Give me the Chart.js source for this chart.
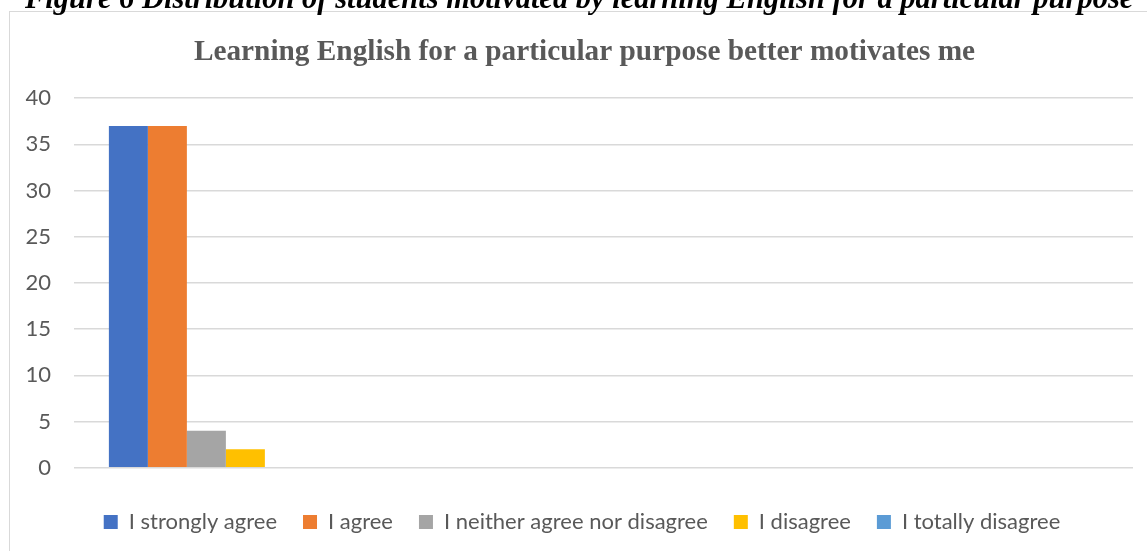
<!DOCTYPE html>
<html><head><meta charset="utf-8">
<script src="https://cdn.jsdelivr.net/npm/chart.js@4.4.0/dist/chart.umd.min.js"></script>
<style>
html,body{margin:0;padding:0;background:#fff;overflow:hidden;width:1147px;height:551px;}
#frame{position:absolute;left:9px;top:11px;width:1200px;height:600px;border:1.5px solid #d9d9d9;box-sizing:border-box;}
#caption{position:absolute;left:25px;top:-16.6px;font:italic bold 30.5px "Liberation Serif";line-height:30.5px;white-space:nowrap;color:#000;}
#wrap{position:absolute;left:0;top:0;width:1147px;height:551px;}
</style></head><body>
<div id="frame"></div>
<div id="wrap"><canvas id="c"></canvas></div>
<div id="caption">Figure 6 Distribution of students motivated by learning English for a particular purpose</div>
<script>
const chartTitle = 'Learning English for a particular purpose better motivates me';
const categories = ['', '', '', ''];
const seriesNames = ['I strongly agree', 'I agree', 'I neither agree nor disagree', 'I disagree', 'I totally disagree'];
const stronglyAgree = [37, null, null, null];
const agree = [37, null, null, null];
const neither = [4, null, null, null];
const disagree = [2, null, null, null];
const totallyDisagree = [0, null, null, null];
const seriesColors = ['#4472C4', '#ED7D31', '#A5A5A5', '#FFC000', '#5B9BD5'];
const yTicks = [0, 5, 10, 15, 20, 25, 30, 35, 40];

const seriesValues = [stronglyAgree, agree, neither, disagree, totallyDisagree];
const textColor = '#595959';
const tickFont = {family: 'Lato', size: 22};

// shift full-width title/legend boxes so they are centred on the (wider) chart frame
const centreShift = {
  id: 'centreShift',
  afterLayout(chart) {
    if (chart.titleBlock) { chart.titleBlock.left += 8; chart.titleBlock.right += 8; }
    if (chart.legend) { chart.legend.left += 5.5; chart.legend.right += 5.5; }
  }
};

new Chart(document.getElementById('c'), {
  type: 'bar',
  data: {
    labels: categories,
    datasets: seriesNames.map((n, i) => ({
      label: n,
      data: seriesValues[i],
      backgroundColor: seriesColors[i],
      borderWidth: 0,
      categoryPercentage: 0.7365,
      barPercentage: 1
    }))
  },
  plugins: [centreShift],
  options: {
    responsive: true,
    maintainAspectRatio: false,
    animation: false,
    layout: {padding: {left: 20, right: 14, top: 0, bottom: 8}},
    plugins: {
      tooltip: {enabled: false},
      title: {
        display: true,
        text: chartTitle,
        color: textColor,
        font: {family: 'Liberation Serif', size: 29.3, weight: 'bold'},
        padding: {top: 34.6, bottom: 28.4}
      },
      legend: {
        position: 'bottom',
        labels: {
          color: textColor,
          font: tickFont,
          boxWidth: 14,
          boxHeight: 14,
          padding: 26
        }
      }
    },
    scales: {
      x: {
        grid: {display: false},
        border: {display: false},
        ticks: {display: false},
        afterFit: s => { s.height = 17.3; }
      },
      y: {
        min: 0,
        max: 40,
        afterBuildTicks: s => { s.ticks = yTicks.map(v => ({value: v})); },
        grid: {color: '#d9d9d9', lineWidth: 1.5, drawTicks: false},
        border: {display: false},
        ticks: {color: textColor, font: tickFont, padding: 23},
        afterFit: s => { s.width = 54; }
      }
    }
  }
});
</script>
</body></html>
